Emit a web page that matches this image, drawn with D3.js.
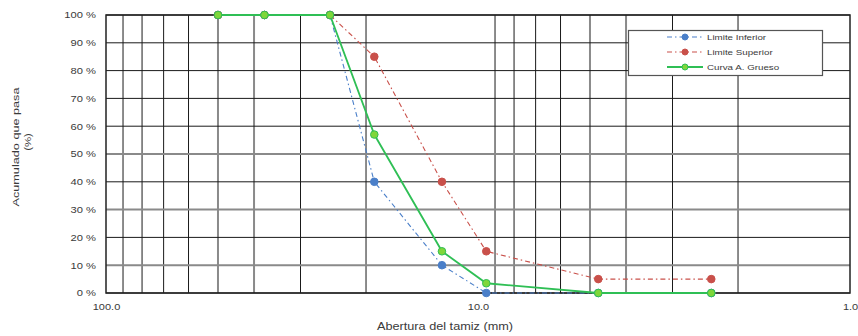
<!DOCTYPE html>
<html><head><meta charset="utf-8">
<script src="https://cdn.jsdelivr.net/npm/d3@7"></script>
<style>
body{margin:0;background:#fff;}
text{font-family:Arial,"Liberation Sans",sans-serif;fill:#3a3a3a;}
</style></head>
<body><svg id="c" width="858" height="336"></svg>
<script>
// ---- data ----
const sieves = [50, 37.5, 25, 19, 12.5, 9.5, 4.75, 2.36];
const limiteInferior = [100, 100, 100, 40, 10, 0, 0, 0];
const limiteSuperior = [100, 100, 100, 85, 40, 15, 5, 5];
const curvaGrueso   = [100, 100, 100, 57, 15, 3.5, 0, 0];
const seriesNames = ["Limite Inferior", "Limite Superior", "Curva A. Grueso"];
const yTicks = [0,10,20,30,40,50,60,70,80,90,100];
const xLabelTicks = [100, 10, 1];
const xGrid = [90,80,70,60,50,40,30,20,9,8,7,6,5,4,3,2];
const xTitle = "Abertura del tamiz (mm)";
const yTitle = ["Acumulado que pasa", "(%)"];

const svg = d3.select("#c");
const L=106, R=850, T=15, B=293;
const x = d3.scaleLog().domain([100,1]).range([L,R]);
const y = d3.scaleLinear().domain([0,100]).range([B,T]);
const softX = new Set([50,40,5,4]);
const softY = new Set([50,30,10]);
function stretch(sel, k){ sel.each(function(){ const w=this.getComputedTextLength(); d3.select(this).attr("textLength",w*k).attr("lengthAdjust","spacingAndGlyphs"); }); }

// grid
const g = svg.append("g");
xGrid.forEach(v=>{
  g.append("line").attr("x1",x(v)).attr("x2",x(v)).attr("y1",T).attr("y2",B)
   .attr("stroke",softX.has(v)?"#8a8a8a":"#1a1a1a").attr("stroke-width",softX.has(v)?2:1);
});
yTicks.forEach(v=>{
  g.append("line").attr("x1",L).attr("x2",R).attr("y1",y(v)).attr("y2",y(v))
   .attr("stroke",softY.has(v)?"#8a8a8a":"#1a1a1a").attr("stroke-width",softY.has(v)?2:1);
});
g.append("rect").attr("x",L).attr("y",T).attr("width",R-L).attr("height",B-T)
 .attr("fill","none").attr("stroke","#222").attr("stroke-width",1.5);

// axes labels
const yAxis = d3.axisLeft(y).tickValues(yTicks).tickSize(0).tickPadding(10).tickFormat(d=>d+" %");
const ya = svg.append("g").attr("transform",`translate(${L},0)`).call(yAxis);
ya.select(".domain").remove();
ya.selectAll("text").attr("font-size",9).attr("fill","#3a3a3a").attr("font-family","Arial, 'Liberation Sans', sans-serif");
stretch(ya.selectAll("text"),1.24);

const xAxis = d3.axisBottom(x).tickValues(xLabelTicks).tickSize(0).tickPadding(11).tickFormat(d3.format(".1f"));
const xa = svg.append("g").attr("transform",`translate(0,${B})`).call(xAxis);
xa.select(".domain").remove();
xa.selectAll("text").attr("font-size",9).attr("fill","#3a3a3a").attr("font-family","Arial, 'Liberation Sans', sans-serif");
stretch(xa.selectAll("text"),1.22);

const xt = svg.append("text").attr("x",445).attr("y",330).attr("text-anchor","middle")
  .attr("font-size",10.5).text(xTitle);
xt.attr("textLength",136).attr("lengthAdjust","spacingAndGlyphs");
const yt1 = svg.append("text").attr("transform","translate(19,147) rotate(-90)")
  .attr("text-anchor","middle").attr("font-size",9.5).text(yTitle[0])
  .attr("textLength",119).attr("lengthAdjust","spacingAndGlyphs");
const yt2 = svg.append("text").attr("transform","translate(31,142) rotate(-90)")
  .attr("text-anchor","middle").attr("font-size",9.5).text(yTitle[1]);
stretch(yt2,1.2);

// series
const styles = [
  {data:limiteInferior, color:"#4a7fc9", fill:"#4a7fc9", dash:"5,3,1.5,3", w:1.1, r:3.8},
  {data:limiteSuperior, color:"#c9504a", fill:"#c9504a", dash:"5,3,1.5,3", w:1.1, r:3.8},
  {data:curvaGrueso, color:"#2fbf55", fill:"#7fd63a", dash:null, w:1.8, r:3.8}
];
const line = d3.line().x(d=>x(d[0])).y(d=>y(d[1]));
styles.forEach(s=>{
  const pts = sieves.map((v,i)=>[v,s.data[i]]);
  svg.append("path").datum(pts).attr("d",line).attr("fill","none")
    .attr("stroke",s.color).attr("stroke-width",s.w).attr("stroke-dasharray",s.dash);
  svg.append("g").selectAll("circle").data(pts).join("circle")
    .attr("cx",d=>x(d[0])).attr("cy",d=>y(d[1])).attr("r",s.r)
    .attr("fill",s.fill).attr("stroke",s.color).attr("stroke-width",1);
});

// legend
const lg = svg.append("g");
lg.append("rect").attr("x",628.5).attr("y",30.5).attr("width",194).attr("height",45)
  .attr("fill","#fff").attr("stroke","#555").attr("stroke-width",1.2);
styles.forEach((s,i)=>{
  const yy = 37 + i*15;
  lg.append("line").attr("x1",667).attr("x2",703).attr("y1",yy).attr("y2",yy)
    .attr("stroke",s.color).attr("stroke-width",s.w).attr("stroke-dasharray",s.dash);
  lg.append("circle").attr("cx",685).attr("cy",yy).attr("r",s.r-0.8)
    .attr("fill",s.fill).attr("stroke",s.color);
  const t = lg.append("text").attr("x",707).attr("y",yy+3).attr("font-size",8).text(seriesNames[i]);
  stretch(t,1.22);
});
</script></body></html>
